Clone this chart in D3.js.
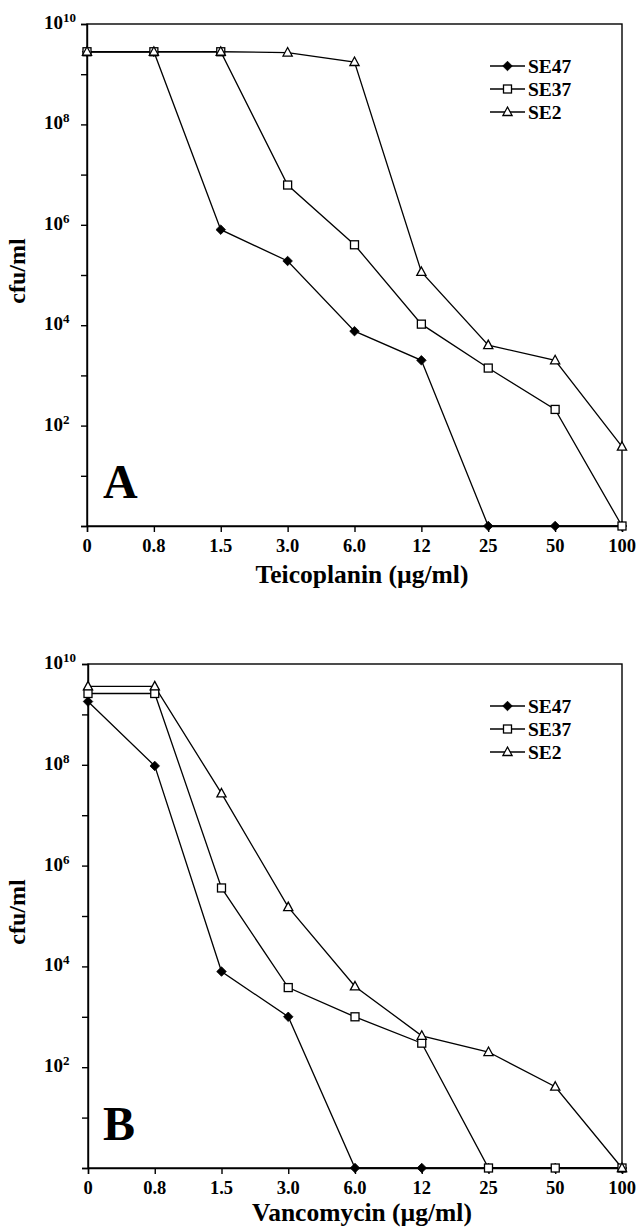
<!DOCTYPE html>
<html>
<head>
<meta charset="utf-8">
<script src="https://cdn.jsdelivr.net/npm/d3@7"></script>
<style>
  body { margin: 0; background: #fff; }
  svg { display: block; }
  text { font-family: "Liberation Serif", "DejaVu Serif", serif; font-weight: bold; fill: #000; }
</style>
</head>
<body>
<div id="chart"></div>
<script>
// concentrations (categorical, evenly spaced)
const doses = ["0", "0.8", "1.5", "3.0", "6.0", "12", "25", "50", "100"];
const seriesNames = ["SE47", "SE37", "SE2"];
const decades = [1, 1e1, 1e2, 1e3, 1e4, 1e5, 1e6, 1e7, 1e8, 1e9, 1e10];
const labelledExp = [2, 4, 6, 8, 10];

// panel A - teicoplanin (cfu/ml)
const teicSE47 = [2.8e9, 2.8e9, 8e5, 1.9e5, 7.6e3, 2.0e3, 1, 1, 1];
const teicSE37 = [2.8e9, 2.8e9, 2.8e9, 6.2e6, 4e5, 1.05e4, 1.4e3, 2.1e2, 1];
const teicSE2  = [2.8e9, 2.8e9, 2.8e9, 2.7e9, 1.75e9, 1.15e5, 4e3, 2e3, 38];

// panel B - vancomycin (cfu/ml)
const vancSE47 = [1.8e9, 9.5e7, 7.9e3, 1e3, 1, 1, 1, 1, 1];
const vancSE37 = [2.6e9, 2.6e9, 3.6e5, 3.8e3, 1e3, 3e2, 1, 1, 1];
const vancSE2  = [3.6e9, 3.6e9, 2.7e7, 1.5e5, 4e3, 4.2e2, 2e2, 41, 1];

const W = 637, H = 1230;
const svg = d3.select("#chart").append("svg")
  .attr("width", W).attr("height", H);

function marker(g, kind, x, y) {
  if (kind === "SE47") {
    g.append("path")
      .attr("d", d3.symbol(d3.symbolDiamond2, 58)())
      .attr("transform", `translate(${x},${y})`)
      .attr("fill", "#000").attr("stroke", "#000").attr("stroke-width", 0.8);
  } else if (kind === "SE37") {
    g.append("rect")
      .attr("x", x - 4).attr("y", y - 4).attr("width", 8).attr("height", 8)
      .attr("fill", "#fff").attr("stroke", "#000").attr("stroke-width", 1.3);
  } else {
    g.append("path")
      .attr("d", `M${x},${y - 5}L${x + 4.6},${y + 3.5}L${x - 4.6},${y + 3.5}Z`)
      .attr("fill", "#fff").attr("stroke", "#000").attr("stroke-width", 1.3);
  }
}

function drawPanel(p) {
  const g = svg.append("g");
  const x = d3.scalePoint().domain(doses).range([p.left, p.right]);
  const y = d3.scaleLog().domain([1, 1e10]).range([p.bottom, p.top]);

  // frame
  g.append("rect")
    .attr("x", p.left).attr("y", p.top)
    .attr("width", p.right - p.left).attr("height", p.bottom - p.top)
    .attr("fill", "none").attr("stroke", "#000").attr("stroke-width", 1.4);

  // axes (ticks only, labels drawn below)
  g.append("g")
    .attr("transform", `translate(${p.left},0)`)
    .call(d3.axisLeft(y).tickValues(decades).tickSize(6).tickFormat(""))
    .call(a => a.selectAll("path,line").attr("stroke", "#000").attr("stroke-width", 1.4));
  g.append("g")
    .attr("transform", `translate(0,${p.bottom})`)
    .call(d3.axisBottom(x).tickSize(6).tickFormat(""))
    .call(a => a.selectAll("path,line").attr("stroke", "#000").attr("stroke-width", 1.4));

  // y tick labels 10^n
  labelledExp.forEach(e => {
    const t = g.append("text")
      .attr("x", 44).attr("y", y(Math.pow(10, e)) + 5)
      .attr("font-size", 19);
    t.append("tspan").text("10");
    t.append("tspan").attr("dy", -7).attr("font-size", 13).text(e);
  });

  // x tick labels
  g.selectAll(".xl").data(doses).enter().append("text")
    .attr("x", d => x(d)).attr("y", p.bottom + 26)
    .attr("text-anchor", "middle").attr("font-size", 18.5)
    .text(d => d);

  // axis titles
  g.append("text")
    .attr("x", 362).attr("y", p.bottom + p.titleDy)
    .attr("text-anchor", "middle").attr("font-size", 25.5)
    .text(p.title);
  g.append("text")
    .attr("transform", `translate(25,${(p.top + p.bottom) / 2 - 4}) rotate(-90)`)
    .attr("text-anchor", "middle").attr("font-size", 24)
    .text("cfu/ml");

  // panel letter
  g.append("text")
    .attr("x", 103).attr("y", p.bottom - 28)
    .attr("font-size", 48)
    .text(p.letter);

  // series
  const line = d3.line().x((d, i) => x(doses[i])).y(d => y(d));
  p.series.forEach((vals, k) => {
    g.append("path").datum(vals)
      .attr("d", line)
      .attr("fill", "none").attr("stroke", "#000").attr("stroke-width", 1.3);
  });
  p.series.forEach((vals, k) => {
    vals.forEach((v, i) => marker(g, seriesNames[k], x(doses[i]), y(v)));
  });

  // legend
  seriesNames.forEach((name, k) => {
    const ly = p.legendY + k * 23;
    g.append("line")
      .attr("x1", 490).attr("x2", 525).attr("y1", ly).attr("y2", ly)
      .attr("stroke", "#000").attr("stroke-width", 1.3);
    marker(g, name, 507.5, ly);
    g.append("text")
      .attr("x", 528).attr("y", ly + 6.5)
      .attr("font-size", 19.5)
      .text(name);
  });
}

drawPanel({
  left: 87, right: 622, top: 24, bottom: 526,
  letter: "A", title: "Teicoplanin (\u00b5g/ml)", titleDy: 57, legendY: 66,
  series: [teicSE47, teicSE37, teicSE2]
});
drawPanel({
  left: 88, right: 622, top: 664, bottom: 1168,
  letter: "B", title: "Vancomycin (\u00b5g/ml)", titleDy: 53, legendY: 706,
  series: [vancSE47, vancSE37, vancSE2]
});
</script>
</body>
</html>
